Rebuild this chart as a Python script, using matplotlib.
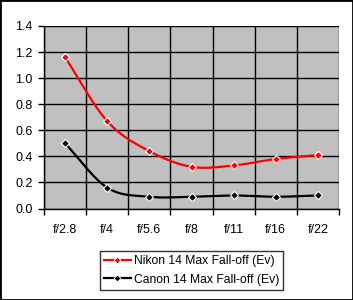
import numpy as np
import matplotlib
matplotlib.use("Agg")
import matplotlib.pyplot as plt
from matplotlib.lines import Line2D
from matplotlib.patches import Rectangle

categories = ["f/2.8", "f/4", "f/5.6", "f/8", "f/11", "f/16", "f/22"]
nikon = [1.16, 0.67, 0.44, 0.32, 0.33, 0.38, 0.41]
canon = [0.50, 0.16, 0.09, 0.09, 0.10, 0.09, 0.10]
series_names = ["Nikon 14 Max Fall-off (Ev)", "Canon 14 Max Fall-off (Ev)"]
y_ticks = [0.0, 0.2, 0.4, 0.6, 0.8, 1.0, 1.2, 1.4]

plt.rcParams['font.family'] = ['Liberation Sans', 'DejaVu Sans']


def smooth(xs, ys, n=30):
    xs = np.asarray(xs, float)
    ys = np.asarray(ys, float)
    P = np.column_stack([xs, ys])
    P = np.vstack([P[0] - (P[1] - P[0]), P, P[-1] + (P[-1] - P[-2])])
    out = []
    t = np.linspace(0, 1, n)[:, None]
    for i in range(1, len(P) - 2):
        p0, p1, p2, p3 = P[i - 1], P[i], P[i + 1], P[i + 2]
        c1 = p1 + (p2 - p0) / 6
        c2 = p2 - (p3 - p1) / 6
        seg = ((1 - t) ** 3) * p1 + 3 * ((1 - t) ** 2) * t * c1 + 3 * (1 - t) * t ** 2 * c2 + t ** 3 * p2
        out.append(seg if i == 1 else seg[1:])
    s = np.vstack(out)
    return s[:, 0], s[:, 1]


fig = plt.figure(figsize=(3.53, 3.00), dpi=100)
fig.patch.set_facecolor("white")
ax = fig.add_axes([44 / 353, 1 - 208.5 / 300, (339 - 44) / 353, (208.5 - 26) / 300])
ax.set_facecolor("#C0C0C0")

x = np.arange(len(categories))
colors = ["#FF0000", "#000000"]
for vals, c in zip([nikon, canon], colors):
    sx, sy = smooth(x, vals)
    ax.plot(sx, sy, color=c, lw=1.6, zorder=3)
    ax.plot(x, vals, ls="none", marker="D", ms=4, mfc=c, mec="white", mew=0.8, zorder=4)

ax.set_xlim(-0.5, len(categories) - 0.5)
ax.set_ylim(0, 1.4)
ax.set_yticks(y_ticks)
ax.set_yticklabels([f"{v:.1f}" for v in y_ticks])
ax.set_xticks(x)
ax.set_xticklabels(categories)
ax.set_xticks(np.arange(-0.5, len(categories), 1.0), minor=True)
ax.tick_params(axis="x", which="major", length=0, pad=11, labelsize=9)
ax.tick_params(axis="x", which="minor", length=4, width=1, direction="out")
ax.tick_params(axis="y", length=4, width=1, direction="out", labelsize=9, pad=4)
ax.grid(True, axis="y", color="black", lw=1, zorder=1)
ax.grid(True, axis="x", which="minor", color="black", lw=1, zorder=1)
ax.set_axisbelow(True)
for side in ["top", "right"]:
    ax.spines[side].set_visible(False)
for side in ["left", "bottom"]:
    ax.spines[side].set_color("black")
    ax.spines[side].set_linewidth(1)

handles = [Line2D([], [], color=c, lw=1.6, marker="D", ms=3.5, mfc=c, mec="white", mew=0.6) for c in colors]
leg = fig.legend(handles, series_names, loc="center",
                 bbox_to_anchor=(191.5 / 353, 1 - 270.5 / 300),
                 frameon=True, fancybox=False, edgecolor="black", fontsize=8.7,
                 handlelength=2.2, handletextpad=0.25, borderpad=0.35, labelspacing=0.5, borderaxespad=0)
leg.get_frame().set_linewidth(1)

fig.patches.append(Rectangle((0, 0), 1, 1, transform=fig.transFigure, fill=False,
                             edgecolor="black", lw=2, zorder=10))

fig.savefig("out.png", dpi=100)
